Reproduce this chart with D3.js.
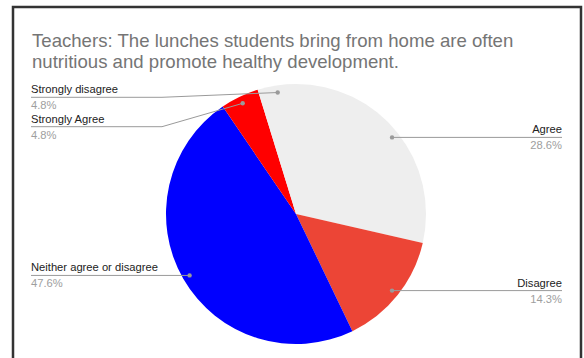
<!DOCTYPE html>
<html>
<head>
<meta charset="utf-8">
<script src="https://cdn.jsdelivr.net/npm/d3@7"></script>
<style>
  html, body { margin: 0; padding: 0; background: #fff; }
  svg { display: block; }
</style>
</head>
<body>
<svg id="chart" width="584" height="358"></svg>
<script>
// Survey responses (teachers), 21 answers in total
const categories = ["Agree", "Disagree", "Neither agree or disagree", "Strongly Agree", "Strongly disagree"];
const counts = [6, 3, 10, 1, 1];
const sliceColors = ["#eeeeee", "#ec4536", "#0000ff", "#ff0000", "#eeeeee"];
const titleLines = [
  "Teachers: The lunches students bring from home are often",
  "nutritious and promote healthy development."
];

const W = 584, H = 358;
const svg = d3.select("#chart");
const font = "'Liberation Sans', Arial, sans-serif";

// Frame around the chart card
svg.append("path")
  .attr("d", `M13,${H + 5} V7 H581 V${H + 5}`)
  .attr("fill", "none")
  .attr("stroke", "#333333")
  .attr("stroke-width", 2.5);

// Title
svg.append("g").selectAll("text")
  .data(titleLines)
  .join("text")
  .attr("x", 32)
  .attr("y", (d, i) => 47 + i * 21)
  .attr("font-family", font)
  .attr("font-size", 18.6)
  .attr("fill", "#757575")
  .text(d => d);

// Pie
const cx = 296, cy = 214, R = 130;
const total = d3.sum(counts);
const pie = d3.pie().sort(null).value(d => d.v)
  .startAngle(0).endAngle(2 * Math.PI);
const data = pie(categories.map((c, i) => ({ c, v: counts[i], color: sliceColors[i] })));
const arc = d3.arc().innerRadius(0).outerRadius(R);
const g = svg.append("g").attr("transform", `translate(${cx},${cy})`);
g.selectAll("path")
  .data(data)
  .join("path")
  .attr("d", arc)
  .attr("fill", d => d.data.color);

// Leader anchor points inside each slice
const anchorArc = d3.arc().innerRadius(R * 0.945).outerRadius(R * 0.945);
const anchors = data.map(d => {
  const [x, y] = anchorArc.centroid(d);
  return [cx + x, cy + y];
});

const pctFmt = v => (v / total * 100).toFixed(1) + "%";
const lineColor = "#9a9a9a";
const leftX = 31, rightX = 562, bendX = 162;

// Label layout: side, y of underline
const labelLayout = [
  { side: "right", y: null },   // Agree: follows anchor
  { side: "right", y: null },   // Disagree
  { side: "left", y: null },    // Neither
  { side: "left", y: 126.7 },   // Strongly Agree
  { side: "left", y: 97.3 }     // Strongly disagree
];

const lab = svg.append("g");
data.forEach((d, i) => {
  const [ax, ay] = anchors[i];
  const L = labelLayout[i];
  const ly = L.y == null ? ay : L.y;
  let pts;
  if (L.side === "right") {
    pts = [[ax, ay], [rightX, ly]];
  } else if (L.y == null) {
    pts = [[leftX, ly], [ax, ay]];
  } else {
    pts = [[leftX, ly], [bendX, ly], [ax, ay]];
  }
  lab.append("path")
    .attr("d", d3.line()(pts))
    .attr("fill", "none")
    .attr("stroke", lineColor)
    .attr("stroke-width", 1);
  lab.append("circle")
    .attr("cx", ax).attr("cy", ay).attr("r", 2.2)
    .attr("fill", lineColor);
  const tx = L.side === "right" ? rightX : leftX;
  const anchor = L.side === "right" ? "end" : "start";
  lab.append("text")
    .attr("x", tx).attr("y", ly - 4)
    .attr("text-anchor", anchor)
    .attr("font-family", font).attr("font-size", 11.2)
    .attr("fill", "#222222")
    .text(d.data.c);
  lab.append("text")
    .attr("x", tx).attr("y", ly + 12)
    .attr("text-anchor", anchor)
    .attr("font-family", font).attr("font-size", 11.2)
    .attr("fill", "#9e9e9e")
    .text(pctFmt(d.data.v));
});
</script>
</body>
</html>
